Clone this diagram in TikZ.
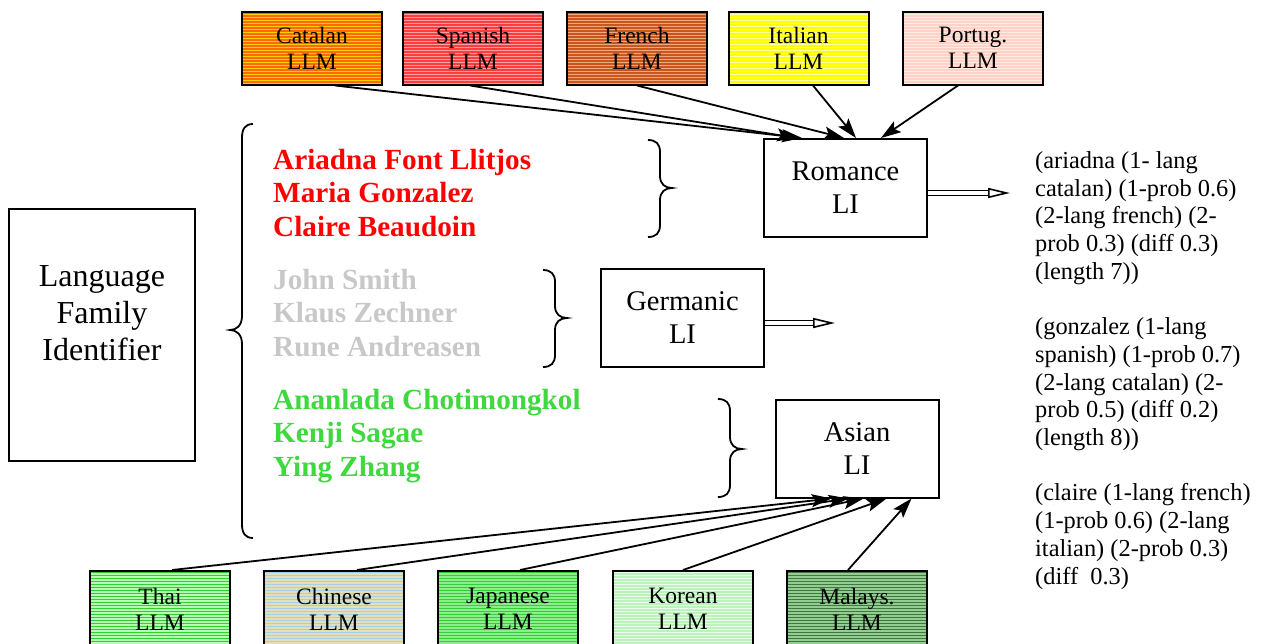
\documentclass[tikz,border=0pt]{standalone}
\usepackage{fontspec}
\setmainfont{Liberation Serif}
\usetikzlibrary{arrows.meta,calc}

\definecolor{namered}{HTML}{FF0000}
\definecolor{namegray}{HTML}{C8C8C8}
\definecolor{namegreen}{HTML}{3FD83F}
% base and stripe colours of the model boxes
\definecolor{catA}{HTML}{FF6A00}\definecolor{catB}{HTML}{FFD000}
\definecolor{spaA}{HTML}{FF3B3B}\definecolor{spaB}{HTML}{FFA0A0}
\definecolor{freA}{HTML}{C8561E}\definecolor{freB}{HTML}{F2A878}
\definecolor{itaA}{HTML}{FFFF00}\definecolor{itaB}{HTML}{FFFFA8}
\definecolor{porA}{HTML}{FFD2C8}\definecolor{porB}{HTML}{FFEAE2}
\definecolor{thaA}{HTML}{33CC33}\definecolor{thaB}{HTML}{B4FFB4}
\definecolor{chiA}{HTML}{A8CCEC}\definecolor{chiB}{HTML}{E2E0B4}
\definecolor{japA}{HTML}{36CC36}\definecolor{japB}{HTML}{8CEE8C}
\definecolor{korA}{HTML}{EAFFEA}\definecolor{korB}{HTML}{BCF2BC}
\definecolor{malA}{HTML}{3A7A3A}\definecolor{malB}{HTML}{94CC94}

\tikzset{
  llm/.style 2 args={draw, line width=2pt, minimum width=140pt, minimum height=73pt,
    inner sep=0pt, align=center, font=\fontsize{23.5}{26}\selectfont,
    fill=#1,
    path picture={
      \foreach \k in {0,3,...,81}
        \draw[#2, line width=1.5pt]
          ([yshift=-\k pt]path picture bounding box.north west) --
          ([yshift=-\k pt]path picture bounding box.north east);
    }},
  libox/.style={draw, line width=2pt, minimum width=163pt, minimum height=98pt,
    inner sep=0pt, align=center, font=\fontsize{28.5}{33}\selectfont},
  names/.style={anchor=base west, align=left, inner sep=0pt,
    font=\fontsize{29.2}{33.3}\selectfont\bfseries},
  arr/.style={line width=1.8pt, -{Stealth[length=20pt,width=13pt,inset=4pt]}},
  dbl/.style={double, double distance=3.2pt, line width=1.8pt,
    -{Triangle[open,length=22pt,width=10pt,line width=1.6pt]}},
  brace/.style={line width=1.8pt},
}

\begin{document}
\begin{tikzpicture}[x=1pt, y=-1pt]
\useasboundingbox (0,0) rectangle (1266,643);

% Romance language models
\node[llm={catA}{catB}] (cat) at (312,48) {Catalan\\LLM};
\node[llm={spaA}{spaB}] (spa) at (473,48) {Spanish\\LLM};
\node[llm={freA}{freB}] (fre) at (637,48) {French\\LLM};
\node[llm={itaA}{itaB}] (ita) at (798.5,48) {Italian\\LLM};
\node[llm={porA}{porB}] (por) at (973,48) {Portug.\\LLM};

% Asian language models
\node[llm={thaA}{thaB}, minimum height=76pt] (tha) at (160,609) {Thai\\LLM};
\node[llm={chiA}{chiB}, minimum height=76pt] (chi) at (334,609) {Chinese\\LLM};
\node[llm={japA}{japB}, minimum height=76pt] (jap) at (508,609) {Japanese\\LLM};
\node[llm={korA}{korB}, minimum height=76pt] (kor) at (683,609) {Korean\\LLM};
\node[llm={malA}{malB}, minimum height=76pt] (mal) at (857,609) {Malays.\\LLM};

% Language identifiers
\node[libox] (rom) at (845.5,188) {Romance\\LI};
\node[libox] (ger) at (682.5,318) {Germanic\\LI};
\node[libox] (asi) at (857,448.5) {Asian\\LI};

% Family identifier
\node[draw, line width=2pt, minimum width=186pt, minimum height=252pt, inner sep=0pt] (lfi) at (102,335) {};
\node[align=center, inner sep=0pt, font=\fontsize{32}{37}\selectfont] (lfitext) at ([yshift=22pt]lfi.center) {Language\\Family\\Identifier};

% Names per family (anchored on the baseline of the last line)
\node[names, text=namered] (romnames) at (273,236) {Ariadna Font Llitjos\\Maria Gonzalez\\Claire Beaudoin};
\node[names, text=namegray] (gernames) at (273,356) {John Smith\\Klaus Zechner\\Rune Andreasen};
\node[names, text=namegreen] (asinames) at (273,476) {Ananlada Chotimongkol\\Kenji Sagae\\Ying Zhang};

% Output listing (anchored on the baseline of the last line)
\node[anchor=base west, align=left, inner sep=0pt, font=\fontsize{24.4}{27.7}\selectfont] (out) at (1035,584)
 {(ariadna (1- lang\\catalan) (1-prob 0.6)\\(2-lang french) (2-\\prob 0.3) (diff 0.3)\\(length 7))\\[27.7pt]
  (gonzalez (1-lang\\spanish) (1-prob 0.7)\\(2-lang catalan) (2-\\prob 0.5) (diff 0.2)\\(length 8))\\[27.7pt]
  (claire (1-lang french)\\(1-prob 0.6) (2-lang\\italian) (2-prob 0.3)\\(diff~ 0.3)};

% Big brace gathering all names
\draw[brace] (253,124) .. controls (245,124) and (242,129) .. (242,138) -- (242,316)
  .. controls (242,326) and (236,330) .. (230,330)
  .. controls (236,330) and (242,334) .. (242,344) -- (242,524)
  .. controls (242,533) and (245,538) .. (253,538);

% Family braces
\draw[brace] (648,140) .. controls (656,140) and (660,144) .. (660,152) -- (660,176)
  .. controls (660,184) and (665,188) .. (672,188)
  .. controls (665,188) and (660,192) .. (660,200) -- (660,225)
  .. controls (660,233) and (656,237) .. (648,237);
\draw[brace] (543,270) .. controls (551,270) and (555,274) .. (555,282) -- (555,306)
  .. controls (555,314) and (560,318) .. (567,318)
  .. controls (560,318) and (555,322) .. (555,330) -- (555,355)
  .. controls (555,363) and (551,367) .. (543,367);
\draw[brace] (718,399) .. controls (726,399) and (730,403) .. (730,411) -- (730,437)
  .. controls (730,445) and (735,449) .. (742,449)
  .. controls (735,449) and (730,453) .. (730,461) -- (730,485)
  .. controls (730,493) and (726,497) .. (718,497);

% Romance models into the Romance identifier
\draw[arr] ([xshift=23pt]cat.south) -- ([xshift=39pt]rom.north west);
\draw[arr] ([xshift=-3pt]spa.south) -- ([xshift=34pt]rom.north west);
\draw[arr] (fre.south) -- ([xshift=81pt]rom.north west);
\draw[arr] ([xshift=14.5pt]ita.south) -- ([xshift=93pt]rom.north west);
\draw[arr] ([xshift=-15pt]por.south) -- ([xshift=118pt]rom.north west);

% Asian models into the Asian identifier
\draw[arr] ([xshift=12pt]tha.north) -- ([xshift=57pt]asi.south west);
\draw[arr] ([xshift=23pt]chi.north) -- ([xshift=74pt]asi.south west);
\draw[arr] ([xshift=12pt]jap.north) -- ([xshift=89pt]asi.south west);
\draw[arr] (kor.north) -- ([xshift=112pt]asi.south west);
\draw[arr] ([xshift=-9pt]mal.north) -- ([xshift=137pt]asi.south west);

% Identifier outputs
\coordinate (romout) at (1010,193);
\coordinate (gerout) at (835,323);
\draw[dbl] ([yshift=-5pt]rom.east) -- (romout);
\draw[dbl] ([yshift=-5pt]ger.east) -- (gerout);
\end{tikzpicture}
\end{document}
